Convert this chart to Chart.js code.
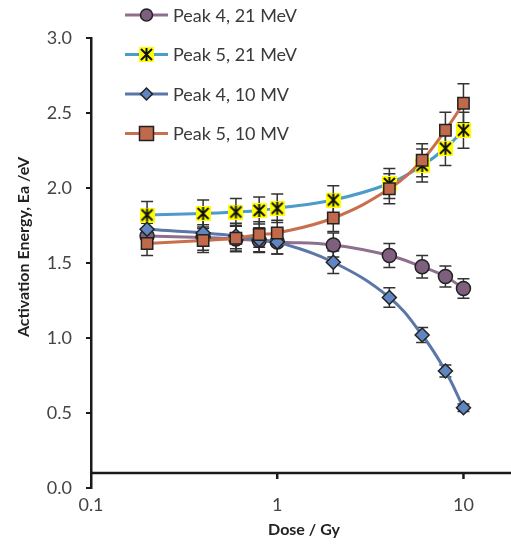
<!DOCTYPE html>
<html>
<head>
<meta charset="utf-8">
<script src="https://cdn.jsdelivr.net/npm/chart.js@4/dist/chart.umd.min.js"></script>
<style>
  html, body { margin: 0; padding: 0; background: #fff; }
  canvas { display: block; }
</style>
</head>
<body>
<canvas id="chart" width="511" height="548"></canvas>
<script>
// dose points (Gy)
const doses = [0.2, 0.4, 0.6, 0.8, 1, 2, 4, 6, 8, 10];
const xTicks = [0.1, 1, 10];

// activation energies (eV) and their error bars
const peak4_21MeV = [1.68, 1.67, 1.66, 1.65, 1.64, 1.62, 1.55, 1.475, 1.41, 1.33];
const peak4_21MeVErr = [0.085, 0.085, 0.085, 0.08, 0.08, 0.08, 0.08, 0.075, 0.07, 0.065];
const peak5_21MeV = [1.82, 1.83, 1.84, 1.85, 1.865, 1.92, 2.03, 2.15, 2.265, 2.385];
const peak5_21MeVErr = [0.09, 0.09, 0.09, 0.09, 0.095, 0.095, 0.1, 0.11, 0.115, 0.12];
const peak4_10MV = [1.725, 1.70, 1.68, 1.655, 1.64, 1.505, 1.27, 1.02, 0.78, 0.535];
const peak4_10MVErr = [0.085, 0.085, 0.085, 0.08, 0.08, 0.075, 0.065, 0.05, 0.04, 0.025];
const peak5_10MV = [1.63, 1.65, 1.665, 1.69, 1.70, 1.80, 1.995, 2.185, 2.385, 2.565];
const peak5_10MVErr = [0.08, 0.08, 0.085, 0.085, 0.085, 0.09, 0.1, 0.11, 0.12, 0.13];

const labels = ["Peak 4, 21 MeV", "Peak 5, 21 MeV", "Peak 4, 10 MV", "Peak 5, 10 MV"];

const FONT = "Lato, 'Open Sans', sans-serif";
const TICK_COLOR = "#444";

// yellow box with an asterisk, like the excel "star" marker
function makeStar(size) {
  const c = document.createElement("canvas");
  c.width = size; c.height = size;
  const g = c.getContext("2d");
  g.fillStyle = "#ffff00";
  g.fillRect(0, 0, size, size);
  g.strokeStyle = "#111";
  g.lineWidth = 2;
  g.beginPath();
  g.moveTo(2, 2); g.lineTo(size - 2, size - 2);
  g.moveTo(size - 2, 2); g.lineTo(2, size - 2);
  g.moveTo(size / 2, 1); g.lineTo(size / 2, size - 1);
  g.stroke();
  return c;
}
const starImg = makeStar(15);

const series = [
  { label: labels[0], data: peak4_21MeV, err: peak4_21MeVErr, line: "#8e6f8e", fill: "#7e5f7e", style: "circle", r: 7 },
  { label: labels[1], data: peak5_21MeV, err: peak5_21MeVErr, line: "#4c9bc8", fill: "#ffff00", style: starImg, r: 7 },
  { label: labels[2], data: peak4_10MV, err: peak4_10MVErr, line: "#5a77a8", fill: "#5f86c0", style: "rectRot", r: 7 },
  { label: labels[3], data: peak5_10MV, err: peak5_10MVErr, line: "#c96f4d", fill: "#c0694b", style: "rect", r: 8 }
];

const datasets = series.map((s, i) => ({
  label: s.label,
  data: doses.map((d, j) => ({ x: d, y: s.data[j] })),
  borderColor: s.line,
  borderWidth: 3,
  tension: 0.4,
  pointStyle: s.style,
  pointRadius: s.r,
  pointBackgroundColor: s.fill,
  pointBorderColor: "#222",
  pointBorderWidth: 1.5,
  order: 4 - i
}));

// error bars, x axis line, titles and legend
const extras = {
  id: "extras",
  beforeDatasetsDraw(chart) {
    const ctx = chart.ctx;
    const ys = chart.scales.y;
    ctx.save();
    ctx.strokeStyle = "#333";
    ctx.lineWidth = 1.5;
    series.forEach((s, i) => {
      const meta = chart.getDatasetMeta(i);
      meta.data.forEach((pt, j) => {
        const top = ys.getPixelForValue(s.data[j] + s.err[j]);
        const bot = ys.getPixelForValue(s.data[j] - s.err[j]);
        ctx.beginPath();
        ctx.moveTo(pt.x, top); ctx.lineTo(pt.x, bot);
        ctx.moveTo(pt.x - 6, top); ctx.lineTo(pt.x + 6, top);
        ctx.moveTo(pt.x - 6, bot); ctx.lineTo(pt.x + 6, bot);
        ctx.stroke();
      });
    });
    // horizontal axis crosses at 0.1
    const xs = chart.scales.x;
    const y0 = ys.getPixelForValue(0.1);
    ctx.strokeStyle = "#1a1a1a";
    ctx.lineWidth = 2.5;
    ctx.beginPath();
    ctx.moveTo(chart.chartArea.left, y0);
    ctx.lineTo(chart.width, y0);
    xTicks.slice(1).forEach(t => {
      const x = xs.getPixelForValue(t);
      ctx.moveTo(x, y0); ctx.lineTo(x, y0 + 6);
    });
    ctx.stroke();
    ctx.restore();
  },
  afterDraw(chart) {
    const ctx = chart.ctx;
    ctx.save();
    // axis titles
    ctx.fillStyle = "#222";
    ctx.font = "bold 16px " + FONT;
    ctx.textAlign = "center";
    ctx.textBaseline = "middle";
    ctx.fillText("Dose / Gy", 304, 530);
    ctx.save();
    ctx.translate(24, 247);
    ctx.rotate(-Math.PI / 2);
    ctx.fillText("Activation Energy, Ea /eV", 0, 0);
    ctx.restore();

    // legend
    ctx.textAlign = "left";
    series.forEach((s, i) => {
      const y = 15 + i * 39.5;
      ctx.strokeStyle = s.line;
      ctx.lineWidth = 3;
      ctx.beginPath();
      ctx.moveTo(125, y); ctx.lineTo(168, y);
      ctx.stroke();
      const r = s.r - 1;
      if (typeof s.style === "string") {
        ctx.fillStyle = s.fill;
        ctx.strokeStyle = "#222";
        ctx.lineWidth = 1.5;
        ctx.beginPath();
        if (s.style === "circle") ctx.arc(146.5, y, r, 0, Math.PI * 2);
        else if (s.style === "rect") ctx.rect(146.5 - r, y - r, 2 * r, 2 * r);
        else { ctx.moveTo(146.5, y - r); ctx.lineTo(146.5 + r, y); ctx.lineTo(146.5, y + r); ctx.lineTo(146.5 - r, y); ctx.closePath(); }
        ctx.fill(); ctx.stroke();
      } else {
        ctx.drawImage(s.style, 146.5 - 7.5, y - 7.5);
      }
      ctx.fillStyle = "#3a3a3a";
      ctx.font = "18px " + FONT;
      ctx.fillText(s.label, 173, y + 1);
    });
    ctx.restore();
  }
};

new Chart(document.getElementById("chart"), {
  type: "line",
  data: { datasets },
  options: {
    responsive: false,
    animation: false,
    layout: { autoPadding: false, padding: { top: 38, right: 0, left: 0, bottom: 0 } },
    plugins: { legend: { display: false }, tooltip: { enabled: false } },
    scales: {
      x: {
        type: "logarithmic",
        bounds: "data",
        min: 0.1,
        max: 18,
        afterBuildTicks(scale) { scale.ticks = xTicks.map(v => ({ value: v })); },
        afterFit(scale) {
          scale.height = 60;
          scale.paddingLeft = 0;
          scale.paddingRight = 0;
        },
        grid: { display: false },
        border: { display: false },
        ticks: {
          color: TICK_COLOR,
          font: { family: FONT, size: 18 },
          padding: -2,
          maxRotation: 0,
          callback: v => String(v)
        }
      },
      y: {
        min: 0,
        max: 3,
        afterFit(scale) { scale.width = 91; },
        ticks: {
          stepSize: 0.5,
          color: TICK_COLOR,
          font: { family: FONT, size: 18 },
          padding: 14,
          callback: v => v.toFixed(1)
        },
        grid: { drawOnChartArea: false, tickLength: 5, color: "#1a1a1a", lineWidth: 2 },
        border: { display: true, color: "#1a1a1a", width: 2.5 }
      }
    }
  },
  plugins: [extras]
});
</script>
</body>
</html>
